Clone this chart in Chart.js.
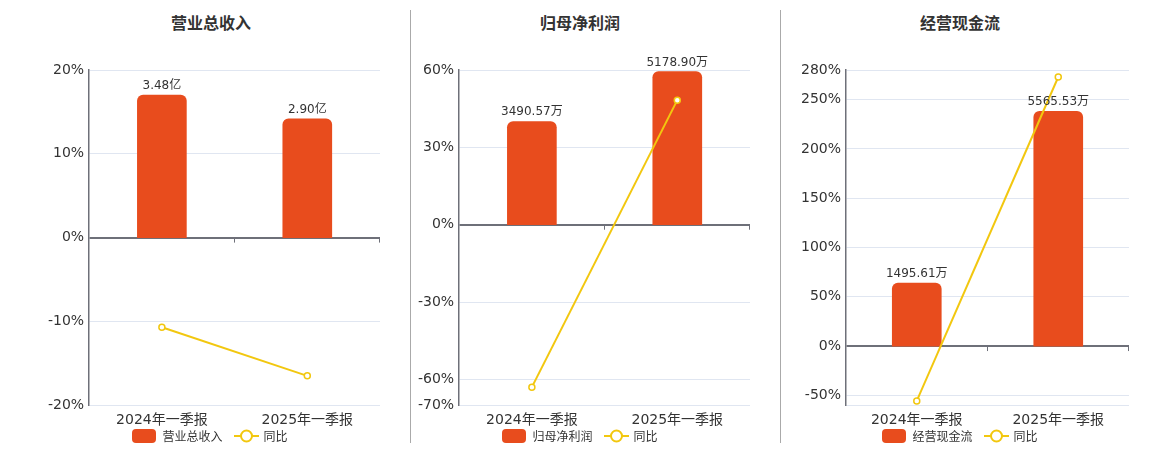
<!DOCTYPE html>
<html><head><meta charset="utf-8">
<script src="https://cdn.jsdelivr.net/npm/chart.js@4/dist/chart.umd.min.js"></script>
<style>
body{margin:0;width:1160px;height:450px;background:#fff;position:relative;overflow:hidden;font-family:"DejaVu Sans","Noto Sans CJK SC",sans-serif;}
.title{position:absolute;top:12px;width:240px;margin-left:-120px;text-align:center;font-family:"Noto Sans CJK SC",sans-serif;font-weight:bold;font-size:16px;color:#333;line-height:20px}
canvas{position:absolute;top:0}
.legend{position:absolute;top:428px;width:300px;margin-left:-150px;height:16px;display:flex;justify-content:center;align-items:center;font-family:"Noto Sans CJK SC",sans-serif;font-size:12px;color:#333;line-height:16px}
.box{width:24px;height:14px;border-radius:4px;background:#e84c1d;margin-right:6px}
.lt{margin-right:11px}
.sep{position:absolute;top:10px;height:433px;width:1px;background:#aaa}
</style></head>
<body>
<div class="sep" style="left:410px"></div>
<div class="sep" style="left:780px"></div>
<div id="t0" class="title" style="left:211px"></div>
<div id="t1" class="title" style="left:580px"></div>
<div id="t2" class="title" style="left:960px"></div>
<canvas id="c0" width="337" height="436" style="left:43px"></canvas>
<canvas id="c1" width="337" height="436" style="left:413px"></canvas>
<canvas id="c2" width="333" height="436" style="left:796px"></canvas>
<div id="l0" class="legend" style="left:210px"></div>
<div id="l1" class="legend" style="left:580px"></div>
<div id="l2" class="legend" style="left:960px"></div>
<script>
const categories = ['2024年一季报', '2025年一季报'];
const yoyName = '同比';

const revenueTitle = '营业总收入';
const revenueValues = [3.48, 2.90];
const revenueLabels = ['3.48亿', '2.90亿'];
const revenueYoY = [-10.7, -16.5];
const revenueTicks = [-20, -10, 0, 10, 20];

const profitTitle = '归母净利润';
const profitValues = [3490.57, 5178.90];
const profitLabels = ['3490.57万', '5178.90万'];
const profitYoY = [-63.0, 48.3];
const profitTicks = [-70, -60, -30, 0, 30, 60];

const cashTitle = '经营现金流';
const cashValues = [1495.61, 5565.53];
const cashLabels = ['1495.61万', '5565.53万'];
const cashYoY = [-55.7, 272.9];
const cashTicks = [-50, 0, 50, 100, 150, 200, 250, 280];

const BAR = '#e84c1d', LINE = '#f2c70f', AXIS = '#6e7079', GRID = '#e0e6f1', TXT = '#333';

const extras = {
  id: 'extras',
  afterDatasetsDraw(chart, args, opts) {
    const ctx = chart.ctx;
    const xs = chart.scales.x, ys = chart.scales.y;
    const y0 = ys.getPixelForValue(0);
    ctx.save();
    ctx.strokeStyle = AXIS; ctx.lineWidth = 1;
    const n = chart.data.labels.length;
    for (let k = 1; k <= n; k++) {
      const x = Math.round(xs.left + k * xs.width / n) - 0.5;
      ctx.beginPath(); ctx.moveTo(x, y0); ctx.lineTo(x, y0 + 5); ctx.stroke();
    }
    const meta = chart.getDatasetMeta(1);
    ctx.fillStyle = TXT;
    ctx.font = '12px "DejaVu Sans","Noto Sans CJK SC"';
    ctx.textAlign = 'center'; ctx.textBaseline = 'alphabetic';
    meta.data.forEach((el, i) => ctx.fillText(opts.labels[i], el.x, el.y - 6));
    ctx.restore();
  }
};

function makeChart(idx, title, barVals, barLabels, yoy, ticks, yMin, yMax, barTopPct) {
  document.getElementById('t' + idx).textContent = title;
  document.getElementById('l' + idx).innerHTML =
    '<div class="box"></div><span class="lt">' + title + '</span>' +
    '<svg width="25" height="14" style="margin-right:5px"><line x1="0" y1="7" x2="25" y2="7" stroke="' + LINE + '" stroke-width="2"/><circle cx="12.5" cy="7" r="5.5" fill="#fff" stroke="' + LINE + '" stroke-width="2"/></svg><span>' + yoyName + '</span>';
  const barMax = Math.max(...barVals) * yMax / barTopPct;
  const allTicks = ticks.includes(yMin) ? ticks : [yMin].concat(ticks);
  new Chart(document.getElementById('c' + idx), {
    data: {
      labels: categories,
      datasets: [
        { type: 'line', label: yoyName, data: yoy, yAxisID: 'y', order: 0,
          borderColor: LINE, borderWidth: 2, pointRadius: 3, pointBorderWidth: 1.5,
          pointBackgroundColor: '#fff', pointBorderColor: LINE, tension: 0 },
        { type: 'bar', label: title, data: barVals, yAxisID: 'y1', order: 1,
          backgroundColor: BAR, barThickness: 49,
          borderRadius: { topLeft: 6, topRight: 6, bottomLeft: 0, bottomRight: 0 }, borderSkipped: false }
      ]
    },
    options: {
      responsive: false, animation: false,
      layout: { autoPadding: false, padding: { top: 70, left: 0, right: 0, bottom: 0 } },
      plugins: { legend: { display: false }, tooltip: { enabled: false }, extras: { labels: barLabels } },
      scales: {
        x: { grid: { display: false, drawTicks: false }, border: { display: false },
             ticks: { color: TXT, padding: 7, font: { size: 14, family: '"DejaVu Sans","Noto Sans CJK SC"' } } },
        y: { min: yMin, max: yMax, position: 'left',
             afterBuildTicks: ax => { ax.ticks = allTicks.map(v => ({ value: v })); },
             ticks: { color: TXT, padding: 5, font: { size: 14, family: '"DejaVu Sans"' },
                      callback: v => ticks.includes(v) ? v + '%' : '' },
             grid: { drawTicks: false,
                     color: c => (c.tick && c.tick.value === 0) ? AXIS : GRID,
                     lineWidth: c => (c.tick && c.tick.value === 0) ? 2 : 1 },
             border: { display: true, color: AXIS, width: 1.5 } },
        y1: { display: false, min: barMax * yMin / yMax, max: barMax }
      }
    },
    plugins: [extras]
  });
}

makeChart(0, revenueTitle, revenueValues, revenueLabels, revenueYoY, revenueTicks, -20, 20, 17.0);
makeChart(1, profitTitle, profitValues, profitLabels, profitYoY, profitTicks, -70, 60, 59.4);
makeChart(2, cashTitle, cashValues, cashLabels, cashYoY, cashTicks, -60, 280, 238.1);
</script>
</body></html>
